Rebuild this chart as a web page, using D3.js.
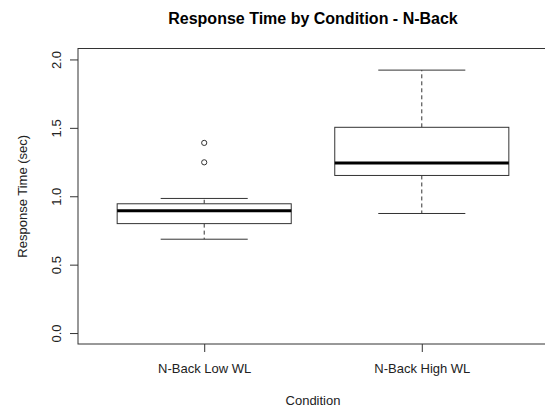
<!DOCTYPE html>
<html>
<head>
<meta charset="utf-8">
<script src="https://cdn.jsdelivr.net/npm/d3@7"></script>
<style>
  body { margin: 0; background: #fff; }
  text { font-family: "Liberation Sans", Arial, sans-serif; }
</style>
</head>
<body>
<svg width="545" height="407"></svg>
<script>
// box statistics
var conditions = ["N-Back Low WL", "N-Back High WL"];
var whiskerLow = [0.686, 0.874];
var q1 = [0.80, 1.152];
var medians = [0.894, 1.243];
var q3 = [0.945, 1.504];
var whiskerHigh = [0.984, 1.922];
var outliers = [[1.248, 1.39], []];
var yTicks = [0, 0.5, 1, 1.5, 2];

function boxplot() {
  var svg = d3.select("svg"),
    pLeft = 78, pRight = 548, pTop = 48.5, pBottom = 344;

  // R-style 4% padding on both axes
  var x = d3.scaleLinear().domain([0.42, 2.58]).range([pLeft, pRight]);
  var y = d3.scaleLinear().domain([-0.08, 2.08]).range([pBottom, pTop]);

  var ink = "#333";

  var data = conditions.map(function (c, i) {
    return { name: c, pos: i + 1, lo: whiskerLow[i], q1: q1[i], med: medians[i],
      q3: q3[i], hi: whiskerHigh[i], out: outliers[i] };
  });

  var boxW = (x(2) - x(1)) * 0.8;
  var capW = boxW / 2;

  var g = svg.selectAll(".box")
    .data(data)
    .enter()
    .append("g")
    .attr("class", "box");

  // dashed whiskers
  g.append("line")
    .attr("x1", function (d) { return x(d.pos); })
    .attr("x2", function (d) { return x(d.pos); })
    .attr("y1", function (d) { return y(d.q3); })
    .attr("y2", function (d) { return y(d.hi); })
    .attr("stroke", ink).attr("stroke-dasharray", "4,3");
  g.append("line")
    .attr("x1", function (d) { return x(d.pos); })
    .attr("x2", function (d) { return x(d.pos); })
    .attr("y1", function (d) { return y(d.q1); })
    .attr("y2", function (d) { return y(d.lo); })
    .attr("stroke", ink).attr("stroke-dasharray", "4,3");

  // caps
  ["hi", "lo"].forEach(function (k) {
    g.append("line")
      .attr("x1", function (d) { return x(d.pos) - capW / 2; })
      .attr("x2", function (d) { return x(d.pos) + capW / 2; })
      .attr("y1", function (d) { return y(d[k]); })
      .attr("y2", function (d) { return y(d[k]); })
      .attr("stroke", ink);
  });

  g.append("rect")
    .attr("x", function (d) { return x(d.pos) - boxW / 2; })
    .attr("y", function (d) { return y(d.q3); })
    .attr("width", boxW)
    .attr("height", function (d) { return y(d.q1) - y(d.q3); })
    .attr("fill", "white")
    .attr("stroke", ink);

  g.append("line")
    .attr("x1", function (d) { return x(d.pos) - boxW / 2; })
    .attr("x2", function (d) { return x(d.pos) + boxW / 2; })
    .attr("y1", function (d) { return y(d.med); })
    .attr("y2", function (d) { return y(d.med); })
    .attr("stroke", "#000")
    .attr("stroke-width", 3);

  g.selectAll("circle")
    .data(function (d) { return d.out.map(function (v) { return { pos: d.pos, v: v }; }); })
    .enter()
    .append("circle")
    .attr("cx", function (d) { return x(d.pos); })
    .attr("cy", function (d) { return y(d.v); })
    .attr("r", 2.6)
    .attr("fill", "none")
    .attr("stroke", ink);

  // frame
  svg.append("rect")
    .attr("x", pLeft).attr("y", pTop)
    .attr("width", pRight - pLeft).attr("height", pBottom - pTop)
    .attr("fill", "none").attr("stroke", ink);

  // y axis
  var yAxis = d3.axisLeft(y).tickValues(yTicks).tickSize(8)
    .tickFormat(d3.format(".1f"));
  var ya = svg.append("g").attr("transform", "translate(" + pLeft + ",0)").call(yAxis);
  ya.select(".domain").remove();
  ya.selectAll("line").attr("stroke", ink);
  ya.selectAll("text")
    .attr("x", 0).attr("dy", null)
    .attr("transform", "translate(-17,0) rotate(-90)")
    .attr("text-anchor", "middle")
    .attr("font-size", 13)
    .attr("fill", "#222");

  // x axis
  var xAxis = d3.axisBottom(x).tickValues([1, 2]).tickSize(8)
    .tickFormat(function (d) { return conditions[d - 1]; });
  var xa = svg.append("g").attr("transform", "translate(0," + pBottom + ")").call(xAxis);
  xa.select(".domain").remove();
  xa.selectAll("line").attr("stroke", ink);
  xa.selectAll("text")
    .attr("y", 29).attr("dy", null)
    .attr("font-size", 13)
    .attr("fill", "#222");

  var mid = (pLeft + pRight) / 2;

  svg.append("text")
    .attr("x", mid).attr("y", 24)
    .attr("text-anchor", "middle")
    .attr("font-size", 16)
    .attr("font-weight", "bold")
    .text("Response Time by Condition - N-Back");

  svg.append("text")
    .attr("x", mid).attr("y", 405)
    .attr("text-anchor", "middle")
    .attr("font-size", 13)
    .attr("fill", "#222")
    .text("Condition");

  svg.append("text")
    .attr("transform", "translate(27," + (pTop + pBottom) / 2 + ") rotate(-90)")
    .attr("text-anchor", "middle")
    .attr("font-size", 13)
    .attr("fill", "#222")
    .text("Response Time (sec)");
}

boxplot();
</script>
</body>
</html>
